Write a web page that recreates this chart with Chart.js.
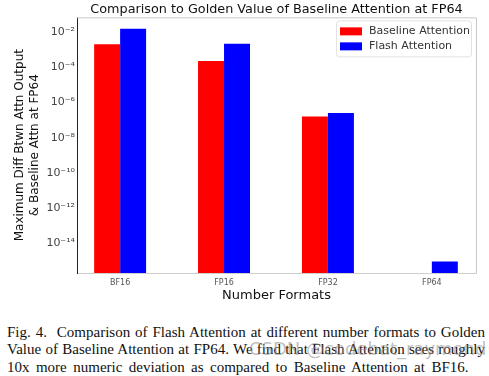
<!DOCTYPE html>
<html>
<head>
<meta charset="utf-8">
<script src="https://cdn.jsdelivr.net/npm/chart.js@4/dist/chart.umd.min.js"></script>
<style>
  html, body { margin: 0; padding: 0; background: #fff; }
  #wrap { position: relative; width: 489px; height: 376px; overflow: hidden; }
  #chart-box { position: absolute; left: 0; top: 0; width: 489px; height: 305px; }
  #caption { position: absolute; left: 7px; top: 324px; width: 478px;
    font-family: "Liberation Serif", "Times New Roman", serif; font-size: 15px; line-height: 17.3px; color: #111; }
  #caption div { white-space: nowrap; }
  #caption .j { text-align: justify; text-align-last: justify; white-space: normal; }
  #caption .last { word-spacing: 2.7px; }
  #wm { position: absolute; left: 249px; top: 338px; font-family: "DejaVu Sans", sans-serif;
    font-size: 18px; color: rgba(140,140,140,0.55); }
</style>
</head>
<body>
<div id="wrap">
  <div id="chart-box"><canvas id="chart"></canvas></div>
  <div id="caption">
    <div class="j">Fig. 4.&nbsp; Comparison of Flash Attention at different number formats to Golden</div>
    <div class="j">Value of Baseline Attention at FP64. We find that Flash Attention sees roughly</div>
    <div class="last">10x more numeric deviation as compared to Baseline Attention at BF16.</div>
  </div>
  <div id="wm">CSDN @codebat_raymond</div>
</div>
<script>
const formats  = ['BF16', 'FP16', 'FP32', 'FP64'];
const baseline = [2.1e-3, 2.3e-4, 1.6e-7, null];
const flash    = [1.6e-2, 2.2e-3, 2.5e-7, 9e-16];
const yTicks   = [1e-14, 1e-12, 1e-10, 1e-8, 1e-6, 1e-4, 1e-2];

const SUP = { '0': '⁰', '1': '¹', '2': '²', '3': '³', '4': '⁴', '5': '⁵', '6': '⁶', '7': '⁷', '8': '⁸', '9': '⁹', '-': '⁻' };
const sciLabel = v => '10' + String(Math.round(Math.log10(v))).split('').map(c => SUP[c]).join('');

// box around plot + legend inside top right
const frameAndLegend = {
    id: 'frameAndLegend',
    afterDraw(chart) {
        const { ctx, chartArea: a } = chart;
        ctx.save();
        ctx.strokeStyle = '#c8c8c8';
        ctx.lineWidth = 1;
        ctx.beginPath();
        ctx.moveTo(a.left, a.top + 0.5);
        ctx.lineTo(a.right + 0.5, a.top + 0.5);
        ctx.lineTo(a.right + 0.5, a.bottom);
        ctx.stroke();

        const x0 = a.right - 140, y0 = a.top + 3, w = 135, h = 36;
        ctx.fillStyle = 'rgba(255,255,255,0.9)';
        ctx.strokeStyle = '#e2e2e2';
        ctx.beginPath();
        ctx.roundRect(x0 + 0.5, y0 + 0.5, w, h, 3);
        ctx.fill();
        ctx.stroke();

        ctx.font = '11px "DejaVu Sans", sans-serif';
        ctx.textBaseline = 'middle';
        chart.data.datasets.forEach((ds, i) => {
            const cy = y0 + 11 + i * 15;
            ctx.fillStyle = ds.backgroundColor;
            ctx.fillRect(x0 + 4, cy - 4, 22, 8);
            ctx.fillStyle = '#333';
            ctx.fillText(ds.label, x0 + 33, cy);
        });
        ctx.restore();
    },
};

new Chart(document.getElementById('chart'), {
    type: 'bar',
    data: {
        labels: formats,
        datasets: [
            { label: 'Baseline Attention', data: baseline, backgroundColor: '#ff0000' },
            { label: 'Flash Attention',    data: flash,    backgroundColor: '#0000ff' },
        ],
    },
    options: {
        responsive: true,
        maintainAspectRatio: false,
        animation: false,
        layout: { padding: { left: 0, right: 13, top: 0, bottom: 0 } },
        datasets: { bar: { barPercentage: 1, categoryPercentage: 0.5 } },
        plugins: {
            legend: { display: false },
            tooltip: { enabled: false },
            title: {
                display: true,
                fullSize: false,
                text: 'Comparison to Golden Value of Baseline Attention at FP64',
                color: '#111',
                font: { family: '"DejaVu Sans", sans-serif', size: 12.8, weight: 'normal' },
                padding: { top: 2, bottom: 0 },
            },
        },
        scales: {
            x: {
                grid: { display: false, drawTicks: false },
                border: { color: '#cfcfcf' },
                ticks: { color: '#555', font: { family: '"DejaVu Sans", sans-serif', size: 8 }, padding: 5 },
                title: {
                    display: true,
                    text: 'Number Formats',
                    color: '#111',
                    font: { family: '"DejaVu Sans", sans-serif', size: 13 },
                    padding: { top: 0, bottom: 2 },
                },
                // matplotlib leaves wider margins at both ends of the category axis
                afterBuildTicks: s => { s._startValue = -0.415; s._valueRange = 3.84; },
                afterFit: s => { s.height = 32; },
            },
            y: {
                type: 'logarithmic',
                min: 2e-16,
                max: 0.07,
                grid: { display: false, drawTicks: false },
                border: { color: '#222' },
                afterBuildTicks: s => { s.ticks = yTicks.map(v => ({ value: v })); },
                ticks: {
                    color: '#444',
                    padding: 2,
                    font: { family: '"DejaVu Sans", sans-serif', size: 11 },
                    callback: v => sciLabel(v),
                },
                title: {
                    display: true,
                    text: ['Maximum Diff Btwn Attn Output', '& Baseline Attn at FP64'],
                    color: '#111',
                    font: { family: '"DejaVu Sans", sans-serif', size: 12, lineHeight: 1.25 },
                    padding: { top: 12, bottom: 0 },
                },
                afterFit: s => { s.width = 77; },
            },
        },
    },
    plugins: [frameAndLegend],
});
</script>
</body>
</html>
